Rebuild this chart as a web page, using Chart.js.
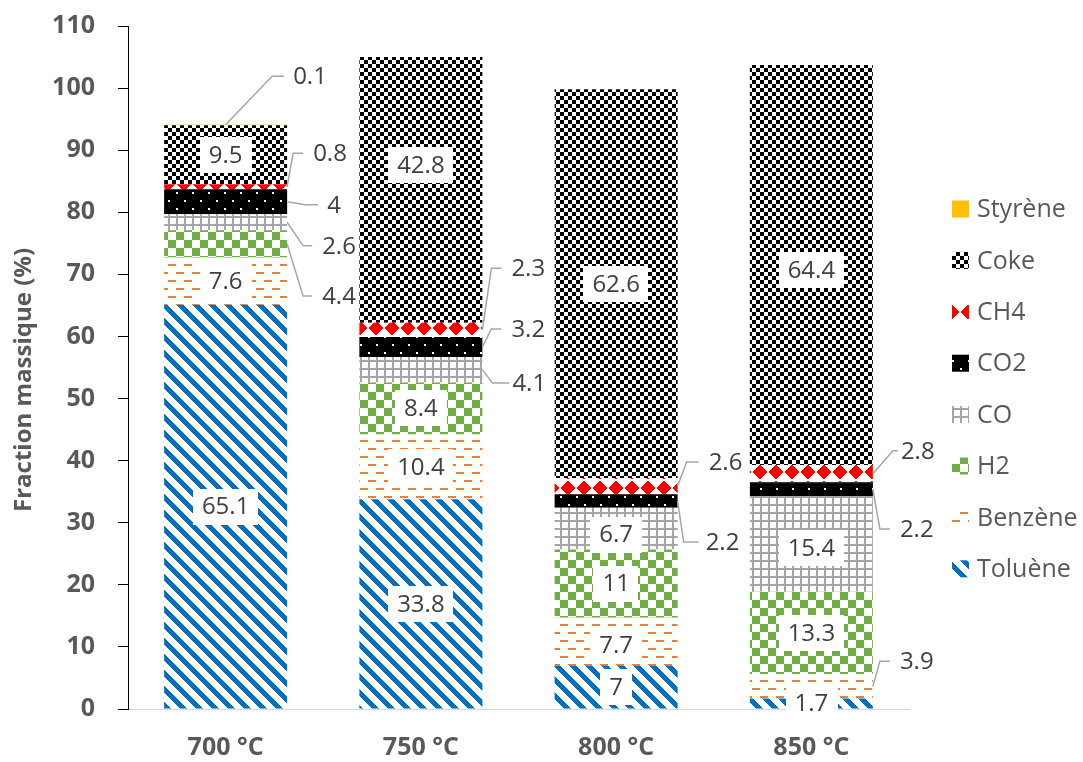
<!DOCTYPE html>
<html>
<head>
<meta charset="utf-8">
<script src="https://cdn.jsdelivr.net/npm/chart.js@4.4.1/dist/chart.umd.min.js"></script>
<style>
html,body{margin:0;padding:0;background:#ffffff;}
#c{display:block;}
</style>
</head>
<body>
<canvas id="c" width="1083" height="762"></canvas>
<script>
// ---------- DATA ----------
const categories = ['700 °C', '750 °C', '800 °C', '850 °C'];
const seriesNames = ['Toluène', 'Benzène', 'H2', 'CO', 'CO2', 'CH4', 'Coke', 'Styrène'];
const toluene = [65.1, 33.8, 7, 1.7];
const benzene = [7.6, 10.4, 7.7, 3.9];
const h2      = [4.4, 8.4, 11, 13.3];
const co      = [2.6, 4.1, 6.7, 15.4];
const co2     = [4, 3.2, 2.2, 2.2];
const ch4     = [0.8, 2.3, 2.6, 2.8];
const coke    = [9.5, 42.8, 62.6, 64.4];
const styrene = [0.1, 0, 0, 0];
const yTicks  = [0, 10, 20, 30, 40, 50, 60, 70, 80, 90, 100, 110];

// ---------- PATTERNS ----------
const mainCtx = document.getElementById('c').getContext('2d');
function makePattern(size, bg, fg, fn) {
  const t = document.createElement('canvas');
  t.width = size; t.height = size;
  const x = t.getContext('2d');
  x.fillStyle = bg; x.fillRect(0, 0, size, size);
  x.fillStyle = fg;
  for (let j = 0; j < size; j++) for (let i = 0; i < size; i++) if (fn(i, j)) x.fillRect(i, j, 1, 1);
  return mainCtx.createPattern(t, 'repeat');
}
const patToluene = makePattern(16, '#ffffff', '#0070C0', (i, j) => ((i - j + 32) % 16) < 7);
const patBenzene = makePattern(16, '#ffffff', '#ED7D31', (i, j) => (j < 2 && i < 8) || (j >= 8 && j < 10 && i >= 8));
const patH2      = makePattern(16, '#ffffff', '#70AD47', (i, j) => (i < 8) !== (j < 8));
const patCO      = makePattern(8,  '#ffffff', '#A5A5A5', (i, j) => (i < 2) || (j < 2));
const patCO2     = makePattern(16, '#000000', '#ffffff', (i, j) => (i < 2 && j < 2) || (i >= 8 && i < 10 && j >= 8 && j < 10));
const patCH4     = makePattern(16, '#ffffff', '#FF0000', (i, j) => Math.abs(i - 7.5) + Math.abs(j - 7.5) <= 7);
const patCoke    = makePattern(8,  '#ffffff', '#000000', (i, j) => ((Math.floor(i / 4) + Math.floor(j / 4)) % 2) === 0);
const solidStyrene = '#FFC000';

const seriesData = [toluene, benzene, h2, co, co2, ch4, coke, styrene];
const seriesFill = [patToluene, patBenzene, patH2, patCO, patCO2, patCH4, patCoke, solidStyrene];

// ---------- PLUGINS ----------
const segLabels = {
  id: 'segLabels',
  afterDatasetsDraw(chart, args, opts) {
    const ctx = chart.ctx;
    const ys = chart.scales.y;
    ctx.save();
    ctx.font = opts.font;
    ctx.textBaseline = 'middle';
    chart.data.datasets.forEach((d, i) => {
      const meta = chart.getDatasetMeta(i);
      meta.data.forEach((el, j) => {
        const v = d.data[j];
        if (!v) return;
        const key = i + ':' + j;
        const top = Math.min(el.y, el.base), bot = Math.max(el.y, el.base);
        const cy = (top + bot) / 2;
        const right = el.x + el.width / 2;
        const text = String(v);
        const c = opts.callouts[key];
        if (c) {
          const sx = c.fromTop ? el.x : right;
          const sy = c.fromTop ? top : cy;
          const ty = ys.getPixelForValue(c.ty);
          ctx.strokeStyle = '#A6A6A6';
          ctx.lineWidth = 1.5;
          ctx.beginPath();
          ctx.moveTo(sx, sy);
          ctx.lineTo(right + c.ex, ty);
          ctx.lineTo(right + c.ee, ty);
          ctx.stroke();
          ctx.textAlign = 'left';
          ctx.fillStyle = '#404040';
          ctx.fillText(text, right + c.tx, ty + 1);
        } else {
          const y = cy + (opts.shift[key] || 0);
          const w = ctx.measureText(text).width + 18;
          const h = 36;
          ctx.fillStyle = '#ffffff';
          ctx.fillRect(Math.round(el.x - w / 2), Math.round(y - h / 2), Math.round(w), h);
          ctx.fillStyle = '#404040';
          ctx.textAlign = 'center';
          ctx.fillText(text, el.x, y + 1);
        }
      });
    });
    ctx.restore();
  }
};

const sideLegend = {
  id: 'sideLegend',
  afterDraw(chart, args, opts) {
    const ctx = chart.ctx;
    const ds = chart.data.datasets;
    ctx.save();
    ctx.font = opts.font;
    ctx.textBaseline = 'middle';
    ctx.textAlign = 'left';
    const x0 = chart.chartArea.right + opts.boxGap;
    let k = 0;
    for (let i = ds.length - 1; i >= 0; i--, k++) {
      const cy = opts.top + k * opts.step;
      ctx.fillStyle = ds[i].backgroundColor;
      ctx.fillRect(x0, cy - opts.box / 2, opts.box, opts.box);
      ctx.fillStyle = '#595959';
      ctx.fillText(ds[i].label, x0 + opts.box + opts.textGap, cy + 1);
    }
    ctx.restore();
  }
};

// ---------- CHART ----------
function build() {
  const datasets = seriesNames.map((n, i) => ({
    label: n,
    data: seriesData[i],
    backgroundColor: seriesFill[i],
    borderWidth: 0,
    barPercentage: 0.63,
    categoryPercentage: 1.0
  }));
  new Chart(document.getElementById('c'), {
    type: 'bar',
    data: { labels: categories, datasets },
    options: {
      responsive: false,
      animation: false,
      devicePixelRatio: 1,
      layout: { padding: { top: 26, right: 174, bottom: 0, left: 0 } },
      plugins: {
        legend: { display: false },
        tooltip: { enabled: false },
        segLabels: {
          font: '24px "Open Sans"',
          shift: { '6:1': -25, '3:2': 6, '1:2': 4, '3:3': 4, '6:3': 5 },
          callouts: {
            '7:0': { fromTop: true, ex: -15, ee: -3, tx: 6, ty: 101.9 },
            '5:0': { ex: 6, ee: 16, tx: 26, ty: 89.5 },
            '4:0': { ex: 18, ee: 31, tx: 40, ty: 81.2 },
            '3:0': { ex: 16, ee: 25, tx: 35, ty: 74.6 },
            '2:0': { ex: 16, ee: 25, tx: 35, ty: 66.5 },
            '5:1': { ex: 9, ee: 19, tx: 29, ty: 71.0 },
            '4:1': { ex: 9, ee: 19, tx: 29, ty: 61.2 },
            '3:1': { ex: 10, ee: 27, tx: 30, ty: 52.5 },
            '5:2': { ex: 9, ee: 21, tx: 31, ty: 39.8 },
            '4:2': { ex: 6, ee: 21, tx: 28, ty: 26.9 },
            '5:3': { ex: 20, ee: 25, tx: 28, ty: 41.6 },
            '4:3': { ex: 7, ee: 17, tx: 27, ty: 29.0 },
            '1:3': { ex: 7, ee: 17, tx: 27, ty: 7.7 }
          }
        },
        sideLegend: { font: '25px "Open Sans"', top: 209, step: 51.4, box: 17, boxGap: 43, textGap: 8 }
      },
      scales: {
        x: {
          stacked: true,
          grid: { display: false, drawTicks: false },
          border: { display: true, color: '#D9D9D9', width: 1 },
          ticks: { color: '#595959', font: { family: 'Open Sans', size: 25, weight: 'bold' }, padding: 24 },
          afterFit: (s) => { s.height = 53; }
        },
        y: {
          stacked: true,
          min: 0,
          max: 110,
          afterBuildTicks: (s) => { s.ticks = yTicks.map(v => ({ value: v })); },
          grid: { drawOnChartArea: false, drawTicks: true, tickLength: 10, color: '#000000' },
          border: { display: true, color: '#000000', width: 1 },
          ticks: { color: '#595959', font: { family: 'Open Sans', size: 25, weight: 'bold' }, padding: 23 },
          title: {
            display: true,
            text: 'Fraction massique (%)\u00a0\u00a0\u00a0\u00a0',
            color: '#595959',
            font: { family: 'Open Sans', size: 24, weight: 'bold' },
            padding: { top: 10, bottom: 0 }
          },
          afterFit: (s) => { s.width = 128; s.paddingTop = 0; s.paddingBottom = 0; }
        }
      }
    },
    plugins: [segLabels, sideLegend]
  });
}

Promise.all([
  document.fonts.load('24px "Open Sans"'),
  document.fonts.load('bold 25px "Open Sans"'),
  document.fonts.load('bold 24px "Open Sans"')
]).then(build, build);
</script>
</body>
</html>
